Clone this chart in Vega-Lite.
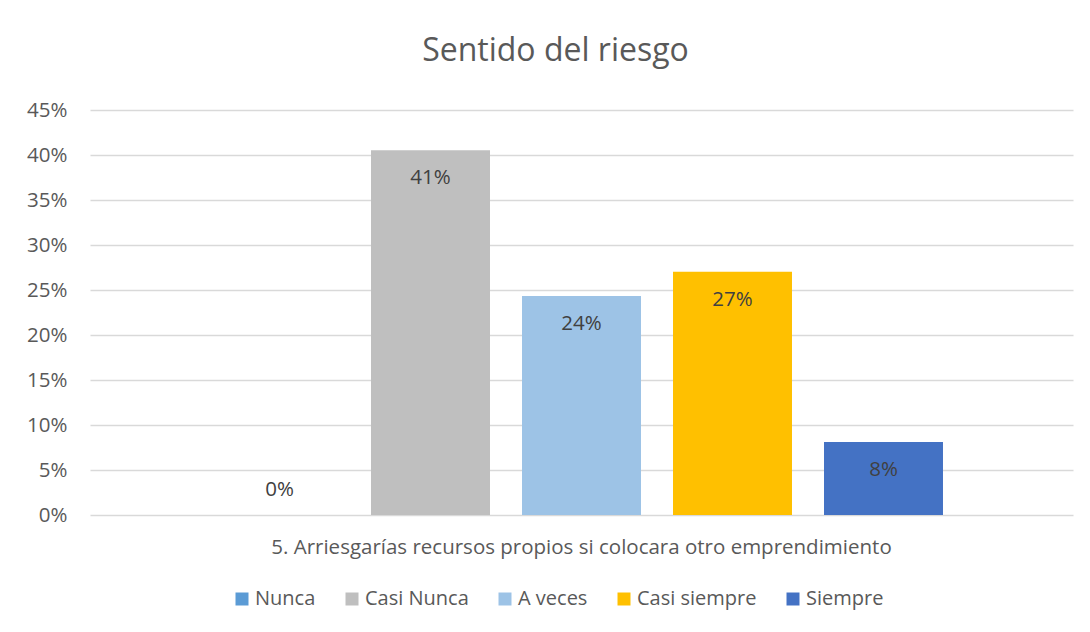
{
  "$schema": "https://vega.github.io/schema/vega-lite/v6.json",
  "width": 983,
  "height": 405,
  "autosize": {"type": "none"},
  "padding": {"left": 90, "top": 110, "right": 17, "bottom": 117},
  "background": "white",
  "config": {"font": "Open Sans", "view": {"stroke": null}},
  "title": {
    "text": "Sentido del riesgo",
    "frame": "group",
    "anchor": "middle",
    "dx": -26,
    "baseline": "alphabetic",
    "offset": 7,
    "fontSize": 32,
    "font": "Open Sans",
    "fontWeight": "normal",
    "color": "#595959"
  },
  "data": {
    "values": [
      {"pregunta": "5. Arriesgarías recursos propios si colocara otro emprendimiento", "serie": "Nunca", "valor": 0},
      {"pregunta": "5. Arriesgarías recursos propios si colocara otro emprendimiento", "serie": "Casi Nunca", "valor": 0.4054},
      {"pregunta": "5. Arriesgarías recursos propios si colocara otro emprendimiento", "serie": "A veces", "valor": 0.2432},
      {"pregunta": "5. Arriesgarías recursos propios si colocara otro emprendimiento", "serie": "Casi siempre", "valor": 0.2703},
      {"pregunta": "5. Arriesgarías recursos propios si colocara otro emprendimiento", "serie": "Siempre", "valor": 0.0811}
    ]
  },
  "encoding": {
    "x": {
      "field": "pregunta",
      "type": "nominal",
      "scale": {"paddingInner": 0, "paddingOuter": 0},
      "axis": {
        "title": null,
        "ticks": false,
        "tickSize": 0,
        "domain": false,
        "labelAngle": 0,
        "labelLimit": 0,
        "labelFontSize": 20.5,
        "labelColor": "#595959",
        "labelBaseline": "alphabetic",
        "labelPadding": 38
      }
    },
    "xOffset": {
      "field": "serie",
      "type": "nominal",
      "sort": ["Nunca", "Casi Nunca", "A veces", "Casi siempre", "Siempre"],
      "scale": {"paddingInner": 0.212, "paddingOuter": 0.861}
    },
    "y": {
      "field": "valor",
      "type": "quantitative",
      "scale": {"domain": [0, 0.45]},
      "axis": {
        "title": null,
        "format": ".0%",
        "values": [0, 0.05, 0.1, 0.15, 0.2, 0.25, 0.3, 0.35, 0.4, 0.45],
        "domain": false,
        "ticks": false,
        "tickSize": 0,
        "labelPadding": 23,
        "labelFontSize": 20.5,
        "labelColor": "#595959",
        "gridColor": "#D9D9D9",
        "gridWidth": 1.3
      }
    }
  },
  "layer": [
    {
      "mark": {"type": "bar"},
      "encoding": {
        "color": {
          "field": "serie",
          "type": "nominal",
          "scale": {
            "domain": ["Nunca", "Casi Nunca", "A veces", "Casi siempre", "Siempre"],
            "range": ["#5B9BD5", "#BFBFBF", "#9DC3E6", "#FFC000", "#4472C4"]
          },
          "legend": {
            "title": null,
            "orient": "none",
            "direction": "horizontal",
            "legendX": 142,
            "legendY": 479,
            "padding": 0,
            "symbolType": "square",
            "symbolSize": 169,
            "symbolStrokeWidth": 0,
            "symbolOpacity": 1,
            "labelOffset": 3,
            "columnPadding": 26,
            "labelFontSize": 20,
            "labelColor": "#595959"
          }
        }
      }
    },
    {
      "transform": [{"filter": "datum.valor > 0"}],
      "mark": {"type": "text", "dy": 28, "baseline": "middle", "fontSize": 20.5, "color": "#404040"},
      "encoding": {"text": {"field": "valor", "type": "quantitative", "format": ".0%"}}
    },
    {
      "transform": [{"filter": "datum.valor == 0"}],
      "mark": {"type": "text", "dy": -25, "baseline": "middle", "fontSize": 20.5, "color": "#404040"},
      "encoding": {"text": {"field": "valor", "type": "quantitative", "format": ".0%"}}
    }
  ]
}
